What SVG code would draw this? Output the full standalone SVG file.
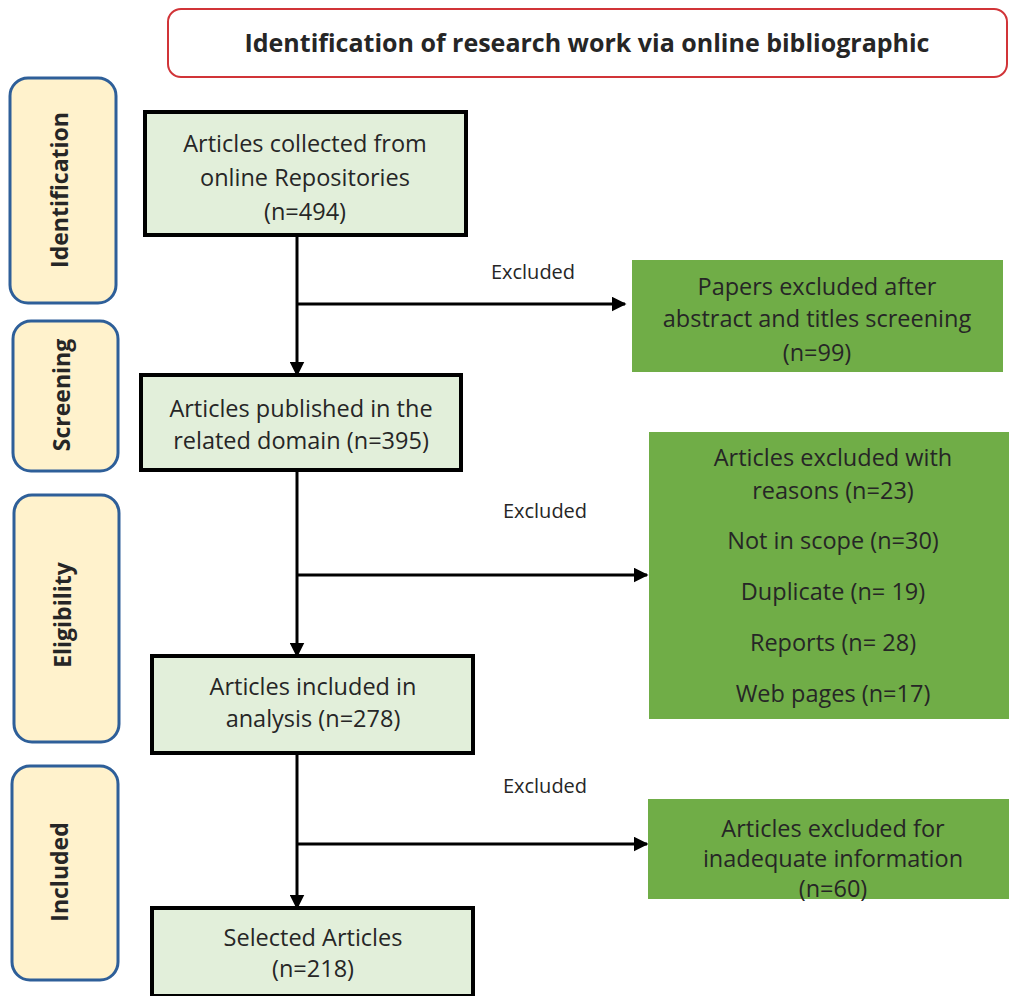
<svg xmlns="http://www.w3.org/2000/svg" width="1009" height="996" viewBox="0 0 1009 996">
<defs>
<style>
.t{font-family:"Open Sans","Liberation Sans",sans-serif;fill:#262626;text-anchor:middle;dominant-baseline:central}
.m{font-size:23.5px}
.x{font-size:20px}
.s{font-size:23px;font-weight:bold}
.h{font-size:25px;font-weight:bold}
.main{fill:#e2efda;stroke:#000;stroke-width:4}
.ex{fill:#70ad47}
.side{fill:#fff2cc;stroke:#2e5f99;stroke-width:3}
.c{stroke:#000;stroke-width:3;fill:none}
</style>
<marker id="ah" viewBox="0 0 10 10" refX="9" refY="5" markerWidth="5" markerHeight="5" markerUnits="strokeWidth" orient="auto">
<path d="M0,0 L10,5 L0,10 z" fill="#000"/>
</marker>
</defs>
<rect width="1009" height="996" fill="#fff"/>
<g id="title">
<rect x="168" y="9" width="839" height="68" rx="13" fill="#fff" stroke="#d13438" stroke-width="2"/>
<text class="t h" x="587" y="42">Identification of research work via online bibliographic</text>
</g>
<g id="side-identification">
<rect class="side" x="10" y="78" width="106" height="225" rx="18"/>
<text class="t s" transform="translate(59,190) rotate(-90)">Identification</text>
</g>
<g id="side-screening">
<rect class="side" x="13" y="321" width="105" height="150" rx="18"/>
<text class="t s" transform="translate(61,395) rotate(-90)">Screening</text>
</g>
<g id="side-eligibility">
<rect class="side" x="14" y="495" width="105" height="247" rx="18"/>
<text class="t s" transform="translate(62,615) rotate(-90)">Eligibility</text>
</g>
<g id="side-included">
<rect class="side" x="12" y="766" width="106" height="214" rx="18"/>
<text class="t s" transform="translate(59,872) rotate(-90)">Included</text>
</g>
<g id="connectors">
<line class="c" x1="297" y1="235" x2="297" y2="375" marker-end="url(#ah)"/>
<line class="c" x1="297" y1="304" x2="625" y2="304" marker-end="url(#ah)"/>
<line class="c" x1="297" y1="470" x2="297" y2="656" marker-end="url(#ah)"/>
<line class="c" x1="297" y1="575" x2="647" y2="575" marker-end="url(#ah)"/>
<line class="c" x1="297" y1="753" x2="297" y2="908" marker-end="url(#ah)"/>
<line class="c" x1="297" y1="844" x2="647" y2="844" marker-end="url(#ah)"/>
<text class="t x" x="533" y="271">Excluded</text>
<text class="t x" x="545" y="510">Excluded</text>
<text class="t x" x="545" y="785">Excluded</text>
</g>
<g id="collected">
<rect class="main" x="145" y="112" width="321" height="123"/>
<text class="t m" x="305" y="143">Articles collected from</text>
<text class="t m" x="305" y="177">online Repositories</text>
<text class="t m" x="305" y="211">(n=494)</text>
</g>
<g id="published">
<rect class="main" x="141" y="375" width="320" height="95"/>
<text class="t m" x="301" y="408">Articles published in the</text>
<text class="t m" x="301" y="440">related domain (n=395)</text>
</g>
<g id="analysis">
<rect class="main" x="152" y="656" width="321" height="97"/>
<text class="t m" x="313" y="686">Articles included in</text>
<text class="t m" x="313" y="718">analysis (n=278)</text>
</g>
<g id="selected">
<rect class="main" x="152" y="908" width="321" height="88"/>
<text class="t m" x="313" y="937">Selected Articles</text>
<text class="t m" x="313" y="968">(n=218)</text>
</g>
<g id="excluded-screening">
<rect class="ex" x="632" y="260" width="371" height="112"/>
<text class="t m" x="817" y="286">Papers excluded after</text>
<text class="t m" x="817" y="318">abstract and titles screening</text>
<text class="t m" x="817" y="352">(n=99)</text>
</g>
<g id="excluded-reasons">
<rect class="ex" x="649" y="432" width="360" height="287"/>
<text class="t m" x="833" y="457">Articles excluded with</text>
<text class="t m" x="833" y="490">reasons (n=23)</text>
<text class="t m" x="833" y="540">Not in scope (n=30)</text>
<text class="t m" x="833" y="591">Duplicate (n= 19)</text>
<text class="t m" x="833" y="642">Reports (n= 28)</text>
<text class="t m" x="833" y="693">Web pages (n=17)</text>
</g>
<g id="excluded-inadequate">
<rect class="ex" x="648" y="799" width="361" height="100"/>
<text class="t m" x="833" y="828">Articles excluded for</text>
<text class="t m" x="833" y="858">inadequate information</text>
<text class="t m" x="833" y="888">(n=60)</text>
</g>
</svg>
